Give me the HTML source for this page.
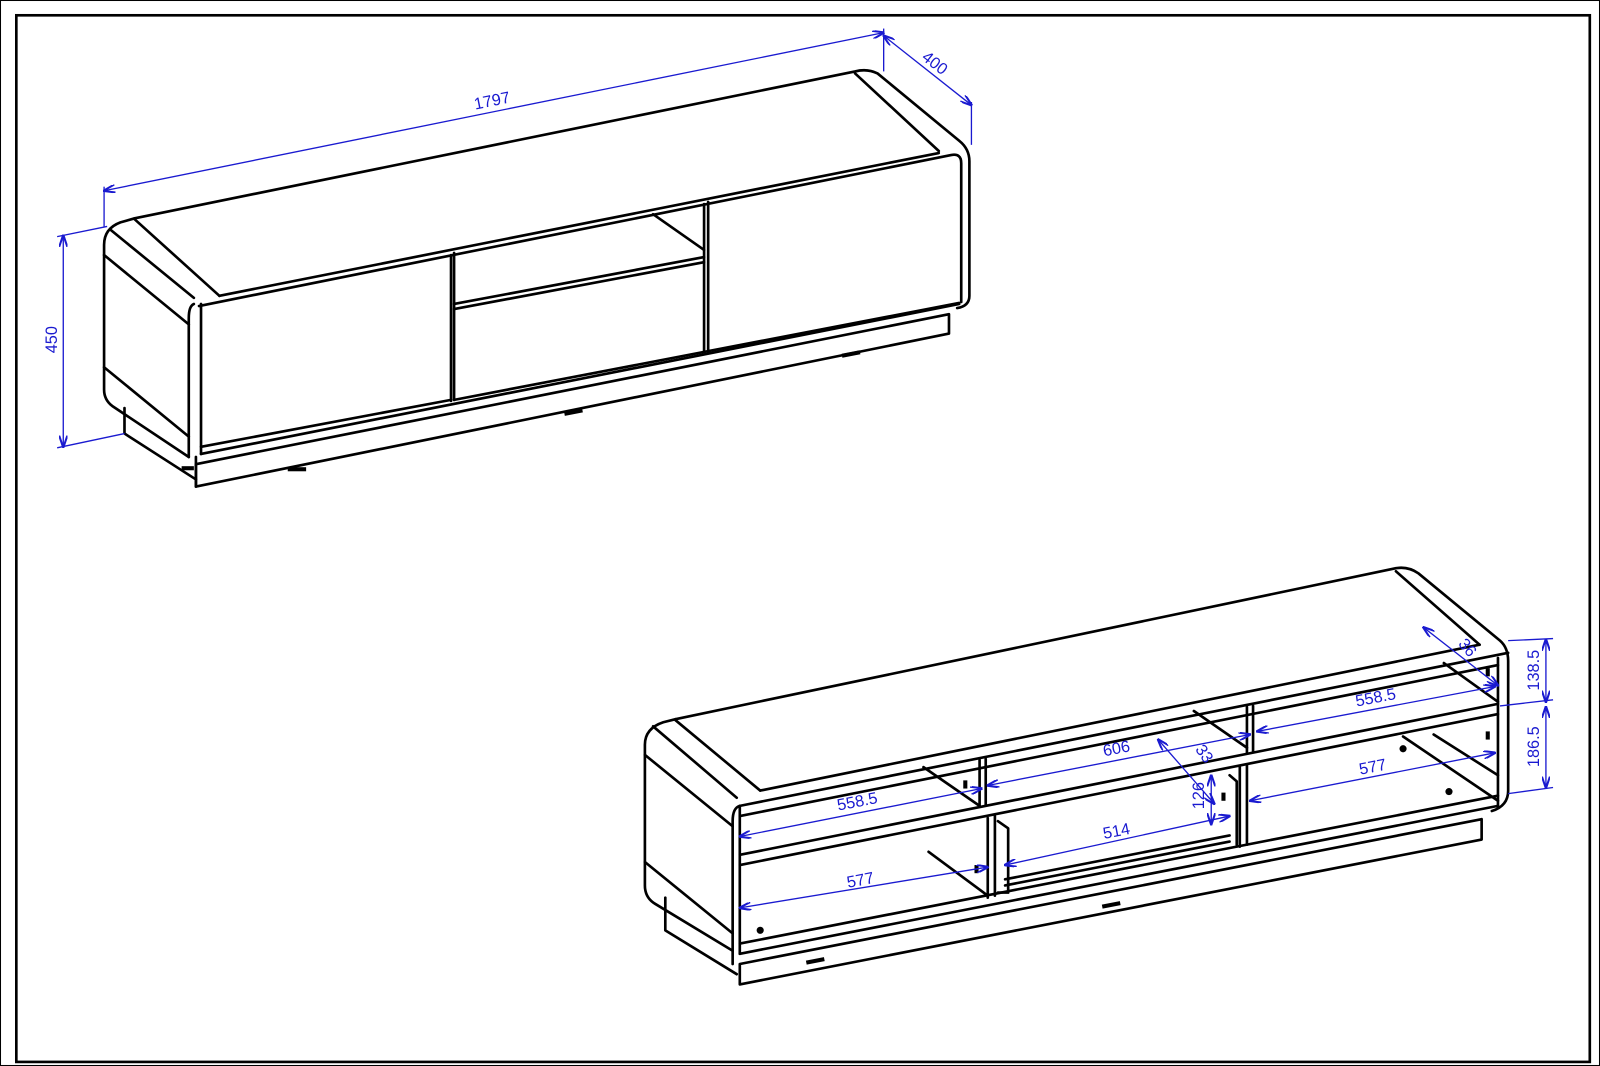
<!DOCTYPE html>
<html><head><meta charset="utf-8"><style>
html,body{margin:0;padding:0;background:#fff;width:1600px;height:1066px;overflow:hidden}
svg{display:block}
.k{stroke:#000;stroke-width:2.6;fill:none;stroke-linejoin:round;stroke-linecap:round}
.b{stroke:#1a1ad0;stroke-width:1.3;fill:none}
text{font-family:"Liberation Sans",sans-serif;font-size:16px;fill:#1a1ad0}
</style></head><body>
<svg width="1600" height="1066" viewBox="0 0 1568 1045" preserveAspectRatio="none">
<defs>
<marker id="ar" viewBox="0 0 12 8" refX="11" refY="4" markerWidth="12" markerHeight="8" orient="auto-start-reverse" markerUnits="userSpaceOnUse">
<path d="M0,0 L12,4 L0,8" fill="none" stroke="#1a1ad0" stroke-width="2"/>
</marker>
</defs>
<rect x="0.5" y="0.5" width="1567" height="1044" fill="none" stroke="#000" stroke-width="1"/>
<rect x="16" y="15" width="1542" height="1026" fill="none" stroke="#000" stroke-width="2.6"/>

<!-- ===== TOP CABINET ===== -->
<g class="k">
<path d="M132,214 L838,70 Q850,67 860,72 L940,138 Q950,146 950,158 L950,290 Q950,300 938,302"/>
<path d="M838,72 L920,148"/>
<path d="M215,290 L920,150"/>
<path d="M195,300 L932,152 Q942,150 942,160 L942,296"/>
<path d="M108,225 L190,292"/>
<path d="M132,214 L118,218 Q102,224 102,240 L102,382 Q102,392 110,398 L185,448"/>
<path d="M132,215 L215,290"/>
<path d="M102,250 L185,318"/>
<path d="M102,360 L185,428"/>
<path d="M190,298 Q185,300 185,312 L185,448"/>
<path d="M197,298 L197,445"/>
<path d="M197,445 L940,298"/>
<path d="M197,438 L442,392"/>
<path d="M442,250 L442,393"/>
<path d="M445,248 L445,392"/>
<path d="M445,298 L690,252"/>
<path d="M445,303 L690,257"/>
<path d="M690,200 L690,345"/>
<path d="M694,198 L694,345"/>
<path d="M640,210 L690,245"/>
<path d="M445,392 L940,297"/>
<path d="M192,455 L930,308 L930,327 L192,477 Z"/>
<path d="M192,448 L192,477"/>
<path d="M122,400 L122,425 L192,470"/>
</g>
<g fill="#000">
<rect x="282" y="458" width="18" height="4"/>
<rect x="553" y="402" width="18" height="4" transform="rotate(-11 562 404)"/>
<rect x="825" y="345" width="18" height="4" transform="rotate(-11 834 347)"/>
<rect x="178" y="457" width="12" height="4"/>
</g>
<g class="b">
<path d="M102,187 L866,32" marker-start="url(#ar)" marker-end="url(#ar)"/>
<path d="M102,183 L102,222"/><path d="M866,28 L866,70"/>
<path d="M866,35 L952,103" marker-start="url(#ar)" marker-end="url(#ar)"/>
<path d="M952,100 L952,142"/>
<path d="M62,231 L62,438" marker-start="url(#ar)" marker-end="url(#ar)"/>
<path d="M56,232 L105,222"/><path d="M56,439 L122,425"/>
</g>
<text x="482" y="104" text-anchor="middle" transform="rotate(-11.5 482 98)">1797</text>
<text x="916" y="67" text-anchor="middle" transform="rotate(38 916 62)">400</text>
<text x="56" y="333" text-anchor="middle" transform="rotate(-90 56 333)">450</text>

<!-- ===== BOTTOM CABINET ===== -->
<g class="k">
<path d="M662,705 L1368,557 Q1380,555 1390,562 L1470,628 Q1478,635 1478,648 L1478,775 Q1478,790 1462,795"/>
<path d="M1368,560 L1450,632"/>
<path d="M745,775 L1450,632"/>
<path d="M725,790 L1478,640"/>
<path d="M662,705 L650,708 Q632,714 632,730 L632,868 Q632,880 642,886 L718,932"/>
<path d="M640,712 L722,782"/>
<path d="M662,706 L745,775"/>
<path d="M632,740 L718,810"/>
<path d="M632,845 L718,915"/>
<path d="M725,790 Q718,792 718,805 L718,945"/>
<path d="M725,790 L725,935"/>
<path d="M1468,645 L1468,792"/>
<path d="M725,935 L1468,790"/>
<path d="M725,925 L1468,780"/>
<path d="M725,838 L1468,690"/>
<path d="M725,848 L1468,700"/>
<path d="M725,800 L1468,652"/>
<path d="M960,745 L960,790"/><path d="M966,744 L966,789"/>
<path d="M1222,693 L1222,738"/><path d="M1228,692 L1228,737"/>
<path d="M968,802 L968,880"/><path d="M975,800 L975,878"/>
<path d="M1215,752 L1215,830"/><path d="M1222,750 L1222,828"/>
<path d="M905,752 L960,790"/>
<path d="M1170,697 L1222,733"/>
<path d="M1415,650 L1468,688"/>
<path d="M910,835 L968,878"/>
<path d="M1375,722 L1468,785"/>
<path d="M1405,720 L1468,760"/>
<path d="M985,868 L1205,825"/>
<path d="M985,862 L1205,819"/>
<path d="M978,805 L988,812 L988,875 L978,875"/>
<path d="M1205,760 L1212,766 L1212,828"/>
<path d="M725,945 L1452,803 L1452,823 L725,965 Z"/>
<path d="M652,880 L652,912 L722,955"/>
</g>
<g fill="#000">
<circle cx="745" cy="912" r="3.5"/><circle cx="1375" cy="734" r="3.5"/><circle cx="1420" cy="776" r="3.5"/>
<rect x="944" y="765" width="4" height="8"/><rect x="1456" y="655" width="4" height="8"/><rect x="1456" y="717" width="4" height="8"/>
<rect x="955" y="848" width="4" height="8"/><rect x="1197" y="777" width="4" height="8"/>
<rect x="1080" y="885" width="18" height="4" transform="rotate(-11 1089 887)"/>
<rect x="790" y="940" width="18" height="4" transform="rotate(-11 799 942)"/>
</g>
<g class="b">
<path d="M725,820 L962,773" marker-start="url(#ar)" marker-end="url(#ar)"/>
<path d="M968,770 L1225,720" marker-start="url(#ar)" marker-end="url(#ar)"/>
<path d="M1232,717 L1465,673" marker-start="url(#ar)" marker-end="url(#ar)"/>
<path d="M725,890 L968,850" marker-start="url(#ar)" marker-end="url(#ar)"/>
<path d="M985,848 L1205,800" marker-start="url(#ar)" marker-end="url(#ar)"/>
<path d="M1225,785 L1465,738" marker-start="url(#ar)" marker-end="url(#ar)"/>
<path d="M1515,627 L1515,688" marker-start="url(#ar)" marker-end="url(#ar)"/>
<path d="M1515,693 L1515,772" marker-start="url(#ar)" marker-end="url(#ar)"/>
<path d="M1478,628 L1522,626"/><path d="M1470,692 L1522,686"/><path d="M1478,778 L1522,772"/>
<path d="M1395,615 L1468,672" marker-start="url(#ar)" marker-end="url(#ar)"/>
<path d="M1135,725 L1190,788" marker-start="url(#ar)" marker-end="url(#ar)"/>
<path d="M1187,760 L1187,808" marker-start="url(#ar)" marker-end="url(#ar)"/>
</g>
<text x="840" y="791" text-anchor="middle" transform="rotate(-11 840 785)">558.5</text>
<text x="1094" y="739" text-anchor="middle" transform="rotate(-11 1094 733)">606</text>
<text x="1348" y="689" text-anchor="middle" transform="rotate(-11 1348 683)">558.5</text>
<text x="843" y="868" text-anchor="middle" transform="rotate(-11 843 862)">577</text>
<text x="1094" y="820" text-anchor="middle" transform="rotate(-11 1094 814)">514</text>
<text x="1345" y="757" text-anchor="middle" transform="rotate(-11 1345 751)">577</text>
<text x="1503" y="662" text-anchor="middle" transform="rotate(-90 1503 657)">138.5</text>
<text x="1503" y="737" text-anchor="middle" transform="rotate(-90 1503 732)">186.5</text>
<text x="1438" y="640" text-anchor="middle" transform="rotate(50 1438 635)">36</text>
<text x="1180" y="744" text-anchor="middle" transform="rotate(55 1180 739)">33</text>
<text x="1175" y="785" text-anchor="middle" transform="rotate(-90 1175 780)">126</text>
</svg>
</body></html>
